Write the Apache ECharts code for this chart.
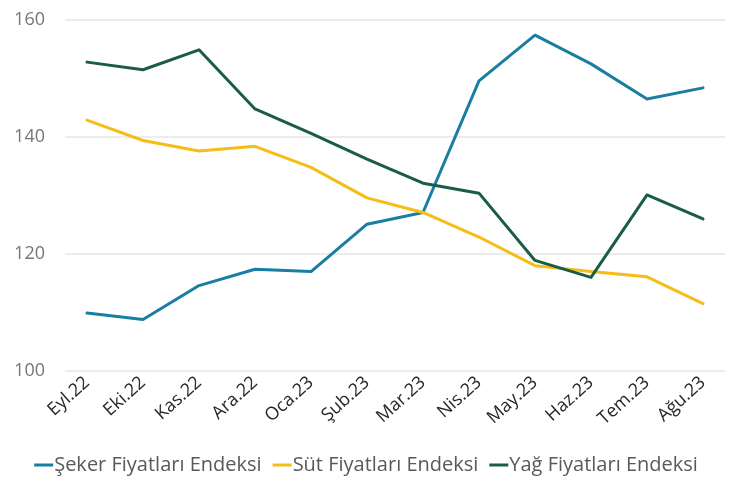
<!DOCTYPE html>
<html>
<head>
<meta charset="utf-8">
<style>
  html, body { margin: 0; padding: 0; background: #fff; }
  #chart { width: 732px; height: 484px; }
</style>
<script src="https://cdn.jsdelivr.net/npm/echarts@6/dist/echarts.min.js"></script>
</head>
<body>
<div id="chart"></div>
<script>
// Monthly price indices, Eylül 2022 – Ağustos 2023
const months = ['Eyl.22', 'Eki.22', 'Kas.22', 'Ara.22', 'Oca.23', 'Şub.23',
                'Mar.23', 'Nis.23', 'May.23', 'Haz.23', 'Tem.23', 'Ağu.23'];
const sekerEndeksi = [109.9, 108.8, 114.6, 117.4, 117.0, 125.1, 127.1, 149.6, 157.4, 152.5, 146.5, 148.4];
const sutEndeksi   = [142.9, 139.4, 137.6, 138.4, 134.8, 129.6, 127.1, 122.9, 118.0, 117.0, 116.1, 111.5];
const yagEndeksi   = [152.8, 151.5, 154.9, 144.8, 140.6, 136.2, 132.1, 130.4, 118.9, 116.0, 130.1, 126.0];
const yTicks = [100, 120, 140, 160];

const seriesNames = ['Şeker Fiyatları Endeksi', 'Süt Fiyatları Endeksi', 'Yağ Fiyatları Endeksi'];
const seriesColors = ['#1A7EA3', '#F6BD16', '#1B5C48'];
const seriesData = [sekerEndeksi, sutEndeksi, yagEndeksi];

const font = '"Open Sans", "Noto Sans", sans-serif';
const yMin = yTicks[0], yMax = yTicks[yTicks.length - 1];
const yStep = yTicks[1] - yTicks[0];

const chart = echarts.init(document.getElementById('chart'), null, { renderer: 'canvas' });

chart.setOption({
  animation: false,
  backgroundColor: '#ffffff',
  textStyle: { fontFamily: font },
  grid: [
    // full-width grid carrying the value axis and its gridlines
    { left: 65, right: 7, top: 20, bottom: 113 },
    // inner grid where the month points sit
    { left: 87, right: 29, top: 20, bottom: 113 }
  ],
  legend: {
    bottom: 4,
    left: 'center',
    icon: 'rect',
    itemWidth: 19,
    itemHeight: 3,
    itemGap: 11,
    textStyle: { fontFamily: font, fontSize: 20, color: '#595959', padding: [0, 0, 0, -4] },
    data: seriesNames
  },
  xAxis: [
    {
      gridIndex: 0, type: 'category', data: months, show: false
    },
    {
      gridIndex: 1,
      type: 'category',
      data: months,
      boundaryGap: false,
      axisLine: { show: false },
      axisTick: { show: false },
      axisLabel: {
        rotate: 42,
        margin: 9,
        interval: 0,
        fontFamily: font,
        fontSize: 18,
        color: '#262626'
      }
    }
  ],
  yAxis: [
    {
      gridIndex: 0,
      type: 'value',
      min: yMin, max: yMax, interval: yStep,
      axisLine: { show: false },
      axisTick: { show: false },
      axisLabel: { margin: 20, fontFamily: font, fontSize: 18, color: '#767676' },
      splitLine: { lineStyle: { color: '#e6e6e6', width: 1.5 } }
    },
    {
      gridIndex: 1,
      type: 'value',
      min: yMin, max: yMax, interval: yStep,
      show: false,
      splitLine: { show: false }
    }
  ],
  series: seriesNames.map((name, i) => ({
    name: name,
    type: 'line',
    xAxisIndex: 1,
    yAxisIndex: 1,
    data: seriesData[i],
    symbol: 'none',
    color: seriesColors[i],
    lineStyle: { width: 3, color: seriesColors[i], cap: 'round', join: 'round' }
  }))
});
</script>
</body>
</html>
